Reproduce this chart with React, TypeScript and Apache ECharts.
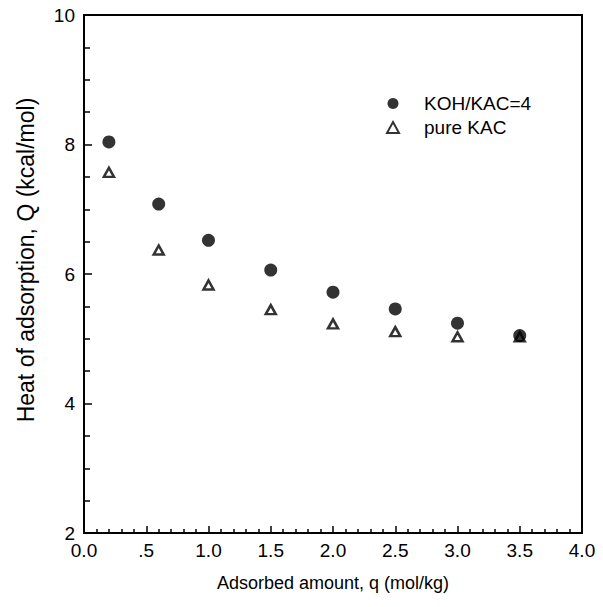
import React, { useEffect, useRef } from "react";
import * as echarts from "echarts";

const xValues = [0.2, 0.6, 1.0, 1.5, 2.0, 2.5, 3.0, 3.5];
const kohKac4 = [8.04, 7.08, 6.52, 6.06, 5.72, 5.46, 5.24, 5.05];
const pureKac = [7.57, 6.37, 5.83, 5.45, 5.23, 5.11, 5.03, 5.03];
const seriesNames = ["KOH/KAC=4", "pure KAC"];
const xTitle = "Adsorbed amount, q (mol/kg)";
const yTitle = "Heat of adsorption, Q (kcal/mol)";

const FONT = "'Liberation Sans', Arial, Helvetica, sans-serif";

export default function App() {
  const ref = useRef<HTMLDivElement>(null);
  useEffect(() => {
    if (!ref.current) return;
    const chart = echarts.init(ref.current, null, { renderer: "svg" });
    chart.setOption({
      animation: false,
      backgroundColor: "#fff",
      textStyle: { fontFamily: FONT, color: "#000" },
      grid: {
        left: 84,
        right: 21,
        top: 15,
        bottom: 74,
        show: true,
        borderColor: "#000",
        borderWidth: 2,
        backgroundColor: "transparent",
      },
      legend: {
        orient: "vertical",
        left: 381,
        top: 89,
        itemWidth: 12,
        itemHeight: 11,
        itemGap: 5,
        data: seriesNames,
        textStyle: {
          fontFamily: FONT,
          fontSize: 19,
          color: "#000",
          padding: [0, 0, 0, 20],
        },
      },
      xAxis: {
        type: "value",
        min: 0,
        max: 4,
        interval: 0.5,
        name: xTitle,
        nameLocation: "middle",
        nameGap: 41,
        nameTextStyle: { fontFamily: FONT, fontSize: 18, color: "#000" },
        axisLine: { show: true, lineStyle: { color: "#000", width: 2 } },
        axisTick: { show: true, inside: true, length: 7, lineStyle: { color: "#000", width: 1.5 } },
        minorTick: { show: true, splitNumber: 5, length: 4, lineStyle: { color: "#000", width: 1.5 } },
        splitLine: { show: false },
        minorSplitLine: { show: false },
        axisLabel: {
          fontFamily: FONT,
          fontSize: 19,
          color: "#000",
          margin: 8,
          formatter: (v: number) => (v === 0.5 ? ".5" : v.toFixed(1)),
        },
      },
      yAxis: {
        type: "value",
        min: 2,
        max: 10,
        interval: 2,
        name: yTitle,
        nameLocation: "middle",
        nameGap: 47,
        nameTextStyle: {
          fontFamily: FONT,
          fontSize: 23,
          color: "#000",
          padding: [0, 0, 0, 28],
        },
        axisLine: { show: true, lineStyle: { color: "#000", width: 2 } },
        axisTick: { show: true, inside: true, length: 8, lineStyle: { color: "#000", width: 1.5 } },
        minorTick: { show: true, splitNumber: 4, length: 6, lineStyle: { color: "#000", width: 1.5 } },
        splitLine: { show: false },
        minorSplitLine: { show: false },
        axisLabel: { fontFamily: FONT, fontSize: 19, color: "#000", margin: 9 },
      },
      series: [
        {
          name: seriesNames[1],
          type: "scatter",
          symbol: "triangle",
          symbolSize: [10, 9],
          itemStyle: { color: "#fff", borderColor: "#000", borderWidth: 2.5 },
          data: xValues.map((x, i) => [x, pureKac[i]]),
          z: 2,
        },
        {
          name: seriesNames[0],
          type: "scatter",
          symbol: "circle",
          symbolSize: 13,
          itemStyle: { color: "#000", borderWidth: 0 },
          data: xValues.map((x, i) => [x, kohKac4[i]]),
          z: 3,
        },
      ],
    });
    return () => chart.dispose();
  }, []);
  return <div ref={ref} style={{ width: 603, height: 607, position: "absolute", left: 0, top: 0 }} />;
}
